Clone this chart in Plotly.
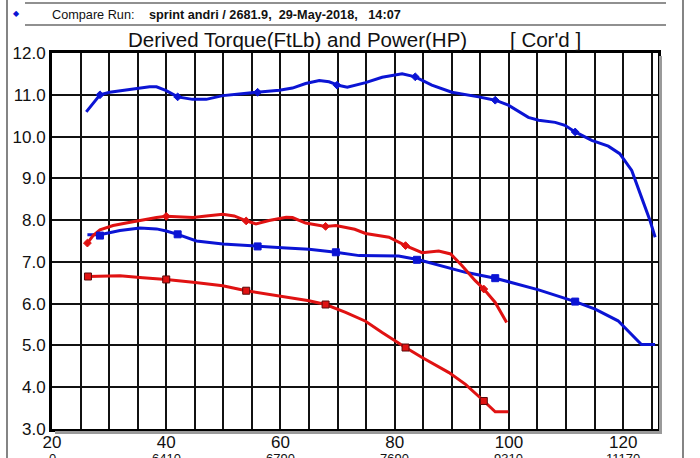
import plotly.graph_objects as go

# ---------------- data ----------------
blue_top_x = [26.0, 28.4, 30.1, 33.0, 37.1, 38.3, 40.0, 42.0, 44.6, 47.0, 49.9, 52.8, 56.0, 59.8, 62.1,
              64.4, 66.8, 68.5, 70.3, 71.7, 74.9, 77.8, 81.3, 83.6, 86.5, 90.0, 94.7, 97.6, 99.9, 103.4,
              105.2, 108.1, 109.8, 111.6, 114.5, 117.4, 119.4, 121.5, 123.2, 124.7, 125.6]
blue_top_y = [10.59, 11.00, 11.06, 11.11, 11.19, 11.19, 11.10, 10.95, 10.89, 10.89, 10.98, 11.02, 11.06, 11.11, 11.16,
              11.27, 11.34, 11.31, 11.22, 11.18, 11.29, 11.42, 11.50, 11.43, 11.23, 11.06, 10.95, 10.87, 10.75, 10.46,
              10.39, 10.34, 10.27, 10.11, 9.91, 9.77, 9.59, 9.19, 8.55, 7.99, 7.59]
blue_top_mk_x = [28.4, 42.0, 56.0, 69.9, 83.6, 97.6, 111.6]
blue_top_mk_y = [11.00, 10.95, 11.06, 11.23, 11.43, 10.87, 10.11]

red_top_x = [26.2, 27.2, 28.4, 30.7, 33.0, 35.9, 38.3, 40.0, 44.7, 47.0, 49.9, 51.9, 54.0, 55.7, 58.0,
             61.0, 62.1, 64.4, 67.9, 69.7, 73.0, 74.9, 79.0, 81.9, 84.8, 87.7, 89.8, 91.8, 94.1, 95.6,
             97.6, 99.6]
red_top_y = [7.45, 7.63, 7.77, 7.87, 7.93, 8.01, 8.06, 8.09, 8.06, 8.10, 8.14, 8.10, 7.98, 7.91, 7.99,
             8.07, 8.06, 7.93, 7.85, 7.87, 7.78, 7.68, 7.59, 7.39, 7.22, 7.26, 7.19, 6.91, 6.55, 6.35,
             6.03, 5.55]
red_top_mk_x = [26.2, 40.0, 54.0, 67.9, 81.9, 95.6]
red_top_mk_y = [7.45, 8.09, 7.98, 7.85, 7.39, 6.35]

blue_low_x = [26.2, 28.4, 31.9, 35.4, 38.3, 40.0, 42.0, 45.3, 49.9, 56.0, 61.0, 65.0, 69.7, 73.8, 80.7,
              84.2, 92.4, 97.6, 99.9, 105.2, 111.6, 115.1, 119.1, 123.2, 125.6]
blue_low_y = [7.65, 7.65, 7.75, 7.81, 7.79, 7.74, 7.66, 7.50, 7.43, 7.37, 7.33, 7.30, 7.23, 7.15, 7.14,
              7.05, 6.75, 6.61, 6.53, 6.33, 6.05, 5.87, 5.59, 5.02, 5.02]
blue_low_mk_x = [28.4, 42.0, 56.0, 69.7, 83.9, 97.6, 111.6]
blue_low_mk_y = [7.63, 7.66, 7.37, 7.23, 7.05, 6.61, 6.05]

red_low_x = [26.3, 31.9, 35.9, 40.0, 44.7, 49.9, 54.0, 59.8, 65.0, 67.9, 71.4, 74.9, 77.8, 81.9, 84.8,
             89.5, 92.4, 95.6, 97.6, 99.9]
red_low_y = [6.65, 6.67, 6.62, 6.58, 6.51, 6.43, 6.31, 6.18, 6.07, 5.98, 5.79, 5.58, 5.31, 4.95, 4.71,
             4.35, 4.07, 3.67, 3.41, 3.41]
red_low_mk_x = [26.3, 40.0, 54.0, 67.9, 81.9, 95.6]
red_low_mk_y = [6.65, 6.58, 6.31, 5.98, 4.95, 3.67]

x_tick_vals = [20, 40, 60, 80, 100, 120]
x_tick_text = ["20", "40", "60", "80", "100", "120"]
rpm_labels = ["0", "6410", "6790", "7690", "9310", "11170"]

title_text = "Derived Torque(FtLb) and Power(HP)"
title_tag = "[ Cor'd ]"
run_label = "Compare Run:"
run_info = "sprint andri / 2681.9,  29-May-2018,   14:07"

# ---------------- styling ----------------
W, H = 700, 458
L, R, T, B = 52, 42, 53, 29
PW, PH = W - L - R, H - T - B
BLUE = "#0b14d4"
RED = "#e01212"
FONT = "Arial, Liberation Sans, sans-serif"


def px(xp):
    return (xp - L) / PW


def py(yp):
    return (H - B - yp) / PH


fig = go.Figure()


def add_curve(xs, ys, color):
    fig.add_trace(go.Scatter(x=xs, y=ys, mode="lines",
                             line=dict(color=color, width=3), hoverinfo="skip"))


def add_marks(xs, ys, color, size, symbol, outline):
    fig.add_trace(go.Scatter(x=xs, y=ys, mode="markers",
                             marker=dict(color=color, size=size, symbol=symbol,
                                         line=dict(color=outline, width=1)),
                             hoverinfo="skip"))


add_curve(blue_top_x, blue_top_y, BLUE)
add_curve(blue_low_x, blue_low_y, BLUE)
add_curve(red_top_x, red_top_y, RED)
add_curve(red_low_x, red_low_y, RED)
add_marks(blue_top_mk_x, blue_top_mk_y, BLUE, 6, "diamond", BLUE)
add_marks(blue_low_mk_x, blue_low_mk_y, BLUE, 7, "square", BLUE)
add_marks(red_top_mk_x, red_top_mk_y, RED, 6, "diamond", RED)
add_marks(red_low_mk_x, red_low_mk_y, RED, 7, "square", "#5a0a0a")

shapes = []
# outer page frame
shapes.append(dict(type="line", xref="paper", yref="paper", x0=px(7), x1=px(7), y0=py(0), y1=py(458),
                   line=dict(color="#333333", width=1.2)))
shapes.append(dict(type="line", xref="paper", yref="paper", x0=px(683), x1=px(683), y0=py(0), y1=py(458),
                   line=dict(color="#333333", width=1.2)))
# header rules
for yy in (3, 25):
    shapes.append(dict(type="line", xref="paper", yref="paper", x0=px(25), x1=px(666), y0=py(yy), y1=py(yy),
                       line=dict(color="#222222", width=1.2)))
# plot drop shadow
shapes.append(dict(type="line", xref="paper", yref="paper", x0=px(660.5), x1=px(660.5), y0=py(56), y1=py(432.5),
                   line=dict(color="#9a9a9a", width=3)))
shapes.append(dict(type="line", xref="paper", yref="paper", x0=px(55), x1=px(662), y0=py(432.5), y1=py(432.5),
                   line=dict(color="#9a9a9a", width=3)))

annotations = []
annotations.append(dict(xref="paper", yref="paper", x=px(16), y=py(14), text="◆", showarrow=False,
                        font=dict(color=BLUE, size=8, family="DejaVu Sans"), xanchor="center", yanchor="middle"))
annotations.append(dict(xref="paper", yref="paper", x=px(50), y=py(15), text=run_label, showarrow=False,
                        font=dict(color="#111111", size=12.7, family=FONT), xanchor="left", yanchor="middle"))
annotations.append(dict(xref="paper", yref="paper", x=px(147), y=py(15), text="<b>" + run_info + "</b>",
                        showarrow=False, font=dict(color="#111111", size=12.7, family=FONT),
                        xanchor="left", yanchor="middle"))
annotations.append(dict(xref="paper", yref="paper", x=px(126), y=py(39), text=title_text, showarrow=False,
                        font=dict(color="#111111", size=20.5, family=FONT), xanchor="left", yanchor="middle"))
annotations.append(dict(xref="paper", yref="paper", x=px(508), y=py(39), text=title_tag, showarrow=False,
                        font=dict(color="#111111", size=20.5, family=FONT), xanchor="left", yanchor="middle"))
for xv, lab in zip(x_tick_vals, rpm_labels):
    annotations.append(dict(xref="x", yref="paper", x=xv, y=py(448.5), text=lab, showarrow=False,
                            font=dict(color="#111111", size=13, family=FONT), xanchor="center", yanchor="top"))

fig.update_layout(
    width=W, height=H,
    margin=dict(l=L, r=R, t=T, b=B, pad=0, autoexpand=False),
    paper_bgcolor="white", plot_bgcolor="white",
    showlegend=False,
    shapes=shapes, annotations=annotations,
    font=dict(family=FONT, color="#111111"),
)
fig.update_xaxes(range=[20, 126.1], tickmode="array", tickvals=x_tick_vals, ticktext=x_tick_text,
                 showgrid=True, gridcolor="#111111", gridwidth=1.5,
                 minor=dict(dtick=5, tick0=20, showgrid=True, gridcolor="#111111", gridwidth=1.5),
                 showline=True, mirror=True, linecolor="black", linewidth=3, automargin=False,
                 ticks="", ticklabelstandoff=-4,
                 tickfont=dict(size=17, family=FONT, color="#111111"), zeroline=False)
fig.update_yaxes(range=[3, 12], dtick=1, tick0=3, tickformat=".1f",
                 showgrid=True, gridcolor="#111111", gridwidth=2, automargin=False,
                 showline=True, mirror=True, linecolor="black", linewidth=3,
                 ticks="", tickfont=dict(size=17, family=FONT, color="#111111"), zeroline=False)

fig.write_html("out.html", config={"displayModeBar": False},
               post_script="document.body.style.margin='0';document.body.style.overflow='hidden';")
